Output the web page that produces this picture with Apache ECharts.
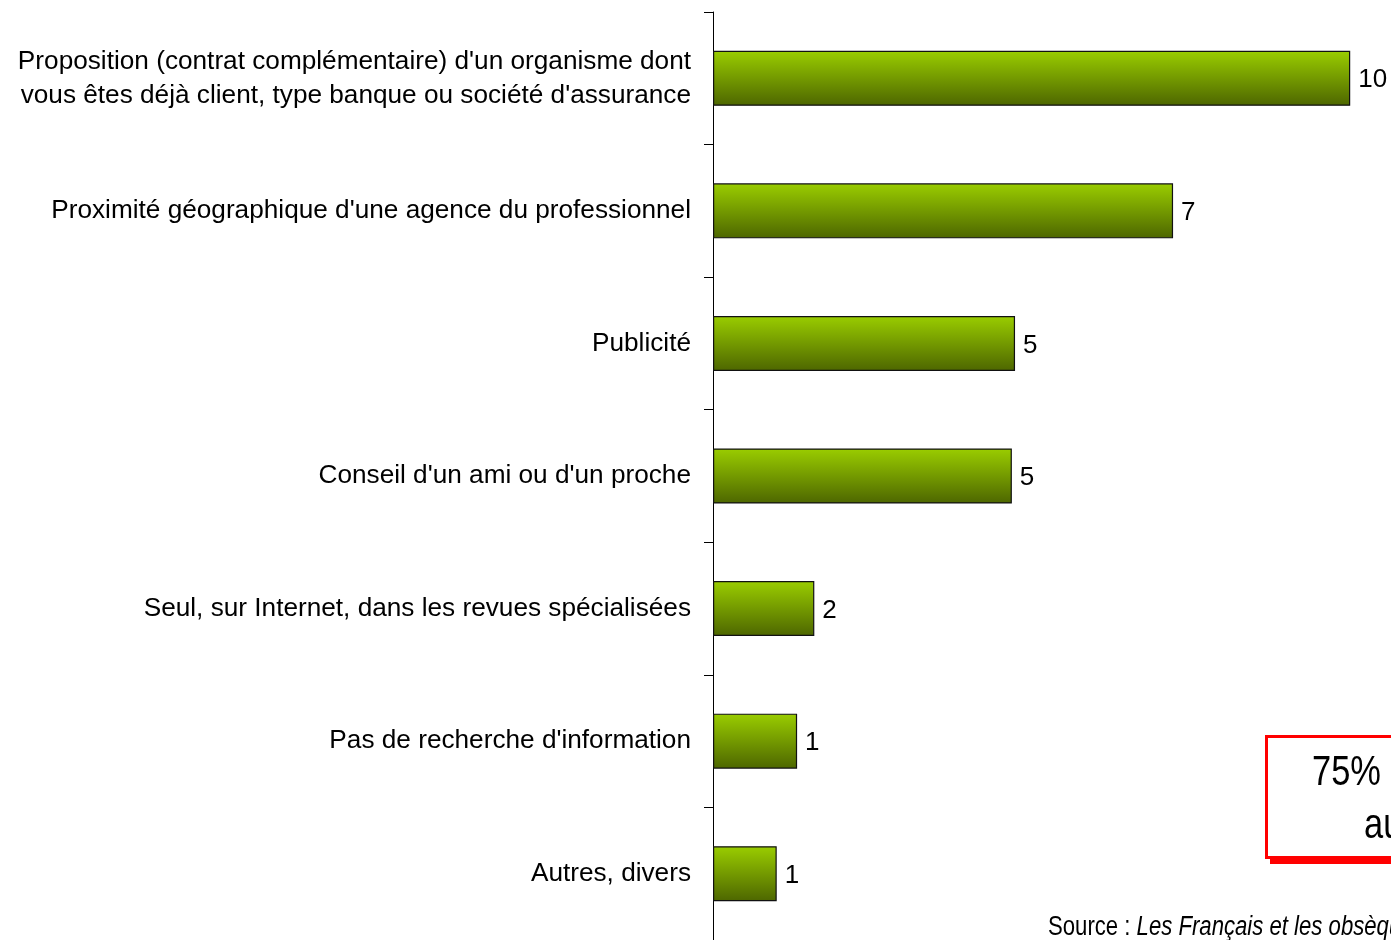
<!DOCTYPE html>
<html>
<head>
<meta charset="utf-8">
<script src="https://cdn.jsdelivr.net/npm/echarts@6/dist/echarts.min.js"></script>
<style>
html,body{margin:0;padding:0;background:#fff;overflow:hidden;}
#chart{width:1391px;height:940px;}
</style>
</head>
<body>
<div id="chart"></div>
<script>
const categories = [
  "Proposition (contrat complémentaire) d'un organisme dont\nvous êtes déjà client, type banque ou société d'assurance",
  "Proximité géographique d'une agence du professionnel",
  "Publicité",
  "Conseil d'un ami ou d'un proche",
  "Seul, sur Internet, dans les revues spécialisées",
  "Pas de recherche d'information",
  "Autres, divers"
];
const values = [10.0, 7.22, 4.74, 4.69, 1.59, 1.32, 1.0];
const valueLabels = ["10", "7", "5", "5", "2", "1", "1"];
const boxLines = ["75%", "au"];
const sourcePrefix = "Source : ";
const sourceTitle = "Les Français et les obsèques";

const chart = echarts.init(document.getElementById('chart'), null, {renderer: 'canvas'});
const font = "'Liberation Sans', Arial, sans-serif";

chart.setOption({
  animation: false,
  backgroundColor: '#ffffff',
  grid: {left: 713, right: 0, top: 12, height: 929, containLabel: false},
  xAxis: {
    type: 'value', min: 0, max: 10.64, show: false,
    splitLine: {show: false}
  },
  yAxis: {
    type: 'category',
    inverse: true,
    data: categories,
    axisLine: {show: true, lineStyle: {color: '#000', width: 1}},
    axisTick: {show: true, length: 9, lineStyle: {color: '#000', width: 1}},
    axisLabel: {
      margin: 22, fontSize: 26.2, lineHeight: 34, color: '#000',
      fontFamily: font, align: 'right', padding: [5, 0, 0, 0]
    }
  },
  series: [{
    type: 'bar',
    data: values,
    barWidth: 55,
    itemStyle: {
      borderColor: '#111', borderWidth: 1.2,
      color: new echarts.graphic.LinearGradient(0, 0, 0, 1, [
        {offset: 0, color: '#9acd00'},
        {offset: 1, color: '#4d6600'}
      ])
    },
    label: {
      show: true, position: 'right', distance: 8, offset: [0, 2],
      fontSize: 26, color: '#000', fontFamily: font,
      formatter: p => valueLabels[p.dataIndex]
    }
  }],
  graphic: [
    {type: 'rect', shape: {x: 1270, y: 741, width: 300, height: 123}, style: {fill: '#ff0000'}, z: 10},
    {type: 'rect', shape: {x: 1266.5, y: 736.5, width: 300, height: 121}, style: {fill: '#ffffff', stroke: '#ff0000', lineWidth: 3}, z: 11},
    {type: 'text', x: 1312, y: 752, scaleX: 0.82, z: 12,
      style: {text: boxLines[0], x: 0, y: 0, font: '42px ' + font, fill: '#000'}},
    {type: 'text', x: 1364, y: 805, scaleX: 0.82, z: 12,
      style: {text: boxLines[1], x: 0, y: 0, font: '42px ' + font, fill: '#000'}},
    {type: 'text', x: 1048, y: 914, scaleX: 0.82, z: 12,
      style: {
        x: 0, y: 0,
        text: '{a|' + sourcePrefix + '}{b|' + sourceTitle + '}',
        rich: {
          a: {fontSize: 27, fontFamily: font, fill: '#000', color: '#000'},
          b: {fontSize: 27, fontFamily: font, fontStyle: 'italic', fill: '#000', color: '#000'}
        }
      }}
  ]
});
</script>
</body>
</html>
